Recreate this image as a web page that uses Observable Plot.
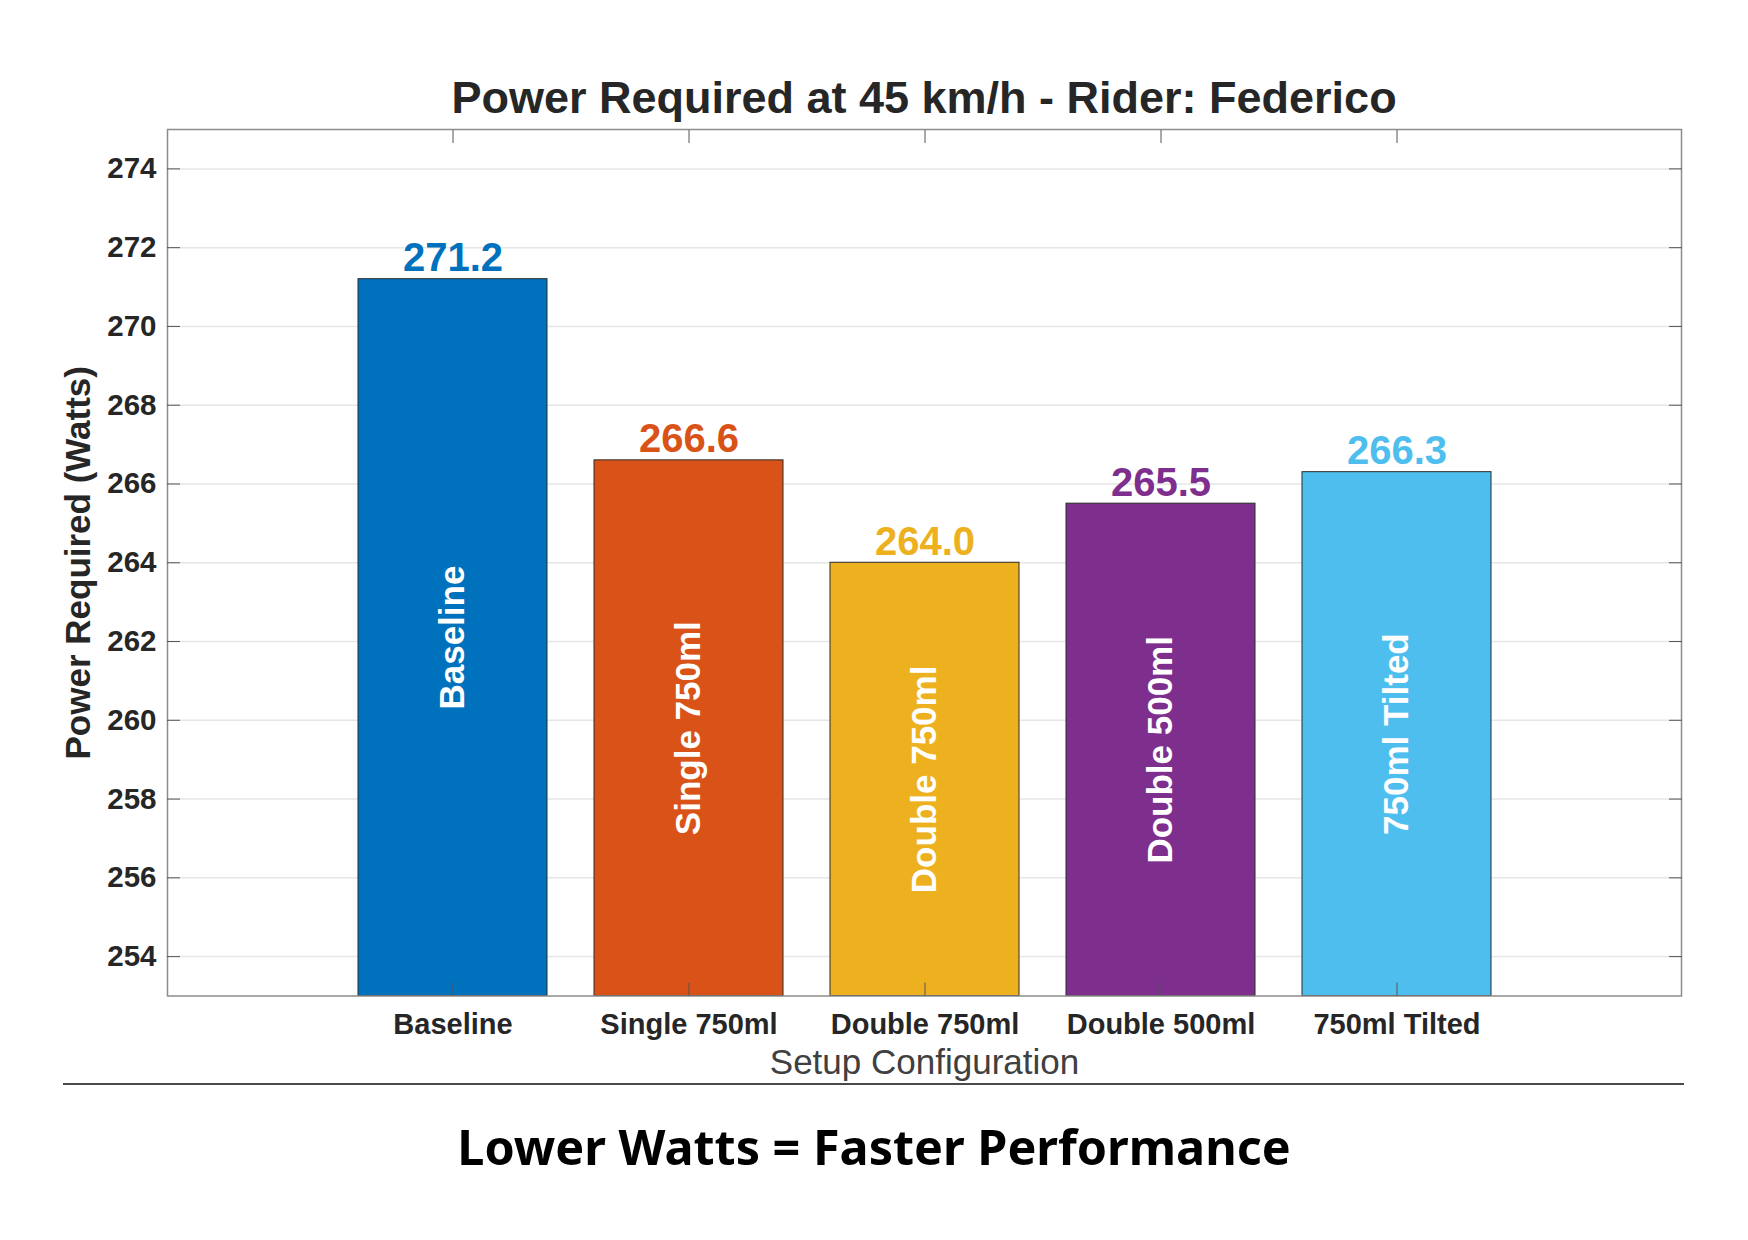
<!DOCTYPE html>
<html>
<head>
<meta charset="utf-8">
<script src="https://cdn.jsdelivr.net/npm/d3@7"></script>
<script src="https://cdn.jsdelivr.net/npm/@observablehq/plot@0.6"></script>
<style>
  html, body { margin: 0; padding: 0; background: #fff; }
  #wrap { position: relative; width: 1748px; height: 1240px; overflow: hidden; background: #fff; }
  #chart { position: absolute; left: 0; top: 0; z-index: 1; }
  #title { position: absolute; left: 167px; width: 1514px; top: 75px; text-align: center; z-index: 2;
    font: bold 45px "Liberation Sans", Arial, sans-serif; line-height: 45px; color: #262626; }
  #rule { position: absolute; left: 63px; width: 1621px; top: 1083px; height: 2px; background: #4a4a4a; z-index: 2; }
  #caption { position: absolute; left: 0; width: 1748px; top: 1118px; text-align: center; z-index: 2;
    font: bold 48.5px "Noto Sans", sans-serif; line-height: 56px; color: #000; }
</style>
</head>
<body>
<div id="wrap">
  <div id="chart"></div>
  <div id="title">Power Required at 45 km/h - Rider: Federico</div>
  <div id="rule"></div>
  <div id="caption">Lower Watts = Faster Performance</div>
</div>
<script>
const categories = ["Baseline", "Single 750ml", "Double 750ml", "Double 500ml", "750ml Tilted"];
const values = [271.2, 266.6, 264.0, 265.5, 266.3];
const colors = ["#0072BD", "#D95319", "#EDB120", "#7E2F8E", "#4DBEEE"];
const yDomain = [253, 275];
const yTicks = [254, 256, 258, 260, 262, 264, 266, 268, 270, 272, 274];
const xLabel = "Setup Configuration";
const yLabel = "Power Required (Watts)";

const data = categories.map((name, i) => ({name, value: values[i]}));
const base = yDomain[0];

const font = "'Liberation Sans', Arial, sans-serif";

const chart = Plot.plot({
  width: 1748,
  height: 1100,
  marginTop: 129,
  marginBottom: 104.5,
  marginLeft: 167,
  marginRight: 67,
  style: {fontFamily: font, background: "transparent", overflow: "visible"},
  x: {type: "band", domain: categories, paddingInner: 0.2, paddingOuter: 0.8, label: null},
  y: {domain: yDomain, label: null},
  color: {domain: categories, range: colors},
  marks: [
    Plot.gridY(yTicks, {stroke: "#e6e6e6", strokeOpacity: 1, strokeWidth: 1.5}),
    Plot.barY(data, {x: "name", y1: base, y2: "value", fill: "name", stroke: "#2b2b2b", strokeWidth: 1}),
    Plot.text(data, {x: "name", y: "value", text: d => d.value.toFixed(1), fill: "name",
      lineAnchor: "bottom", dy: -8, fontSize: 40, fontWeight: "bold"}),
    Plot.text(data, {x: "name", y: d => (d.value + base) / 2, text: "name", rotate: -90,
      fill: "white", fontSize: 35, fontWeight: "bold"}),
    Plot.frame({stroke: "#8c8c8c", strokeWidth: 1.5}),
    // tick marks (inward)
    Plot.axisY({ticks: yTicks, anchor: "left", tickSize: -13, tickFormat: () => "", stroke: "#555", label: null}),
    Plot.axisY({ticks: yTicks, anchor: "right", tickSize: -13, tickFormat: () => "", stroke: "#555", label: null}),
    Plot.axisX({anchor: "bottom", tickSize: -13, tickFormat: () => "", stroke: "#555", label: null}),
    Plot.axisX({anchor: "top", tickSize: -13, tickFormat: () => "", stroke: "#555", label: null}),
    // tick labels
    Plot.axisY({ticks: yTicks, anchor: "left", tickSize: 0, tickPadding: 11, fontSize: 29.5,
      fontWeight: "bold", fill: "#262626", label: null}),
    Plot.axisX({anchor: "bottom", tickSize: 0, tickPadding: 17, fontSize: 29,
      fontWeight: "bold", fill: "#262626", label: null}),
    // axis titles
    Plot.text([xLabel], {text: d => d, frameAnchor: "bottom", lineAnchor: "middle", textAnchor: "middle",
      dy: 67, fontSize: 35, fill: "#404040"}),
    Plot.text([yLabel], {text: d => d, frameAnchor: "left", textAnchor: "middle", lineAnchor: "middle",
      dx: -89, rotate: -90, fontSize: 35, fontWeight: "bold", fill: "#262626"})
  ]
});
document.getElementById("chart").appendChild(chart);
</script>
</body>
</html>
